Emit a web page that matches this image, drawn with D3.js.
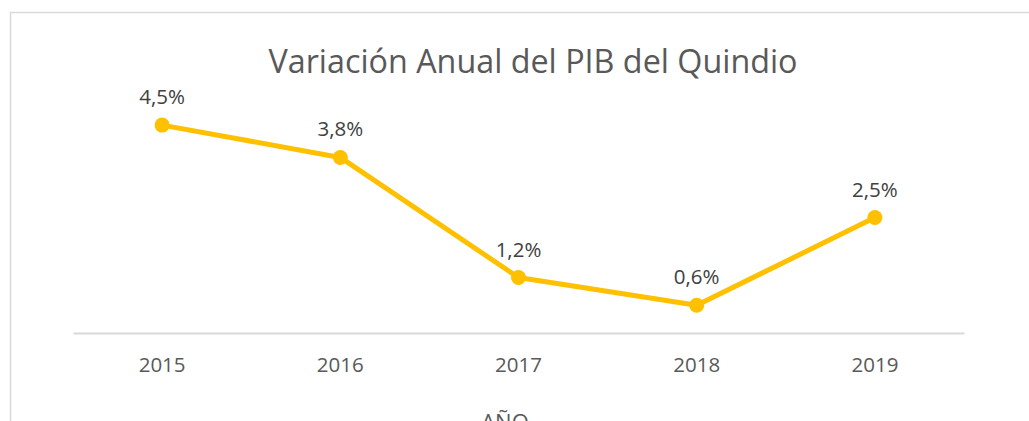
<!DOCTYPE html>
<html><head><meta charset="utf-8">
<script src="https://cdn.jsdelivr.net/npm/d3@7"></script>
<style>html,body{margin:0;padding:0;background:#fff;overflow:hidden}</style>
</head><body>
<svg id="c" width="1029" height="421"></svg>
<script>
const years = ["2015","2016","2017","2018","2019"];
const values = [4.5, 3.8, 1.2, 0.6, 2.5];
const valueLabels = ["4,5%","3,8%","1,2%","0,6%","2,5%"];
const title = "Variación Anual del PIB del Quindio";
const axisTitle = "AÑO";

const svg = d3.select("#c");
const font = "'Open Sans', 'Segoe UI', sans-serif";
const grey = "#595959";
const gold = "#FFC000";

// chart frame
svg.append("rect").attr("x",10.5).attr("y",12.5).attr("width",1040).attr("height",440)
  .attr("fill","#fff").attr("stroke","#d9d9d9").attr("stroke-width",1.5);

const x = d3.scaleBand().domain(years).range([73,964]);
const y = d3.scaleLinear().domain([0,5]).range([333,102]);

// category axis
const xAxis = d3.axisBottom(x).tickSize(0).tickPadding(24);
const gx = svg.append("g").attr("transform","translate(0,333)").call(xAxis);
gx.select(".domain").attr("stroke","#d9d9d9").attr("stroke-width",2);
gx.selectAll("text").attr("fill",grey).style("font-family",font).style("font-size","20.5px");

// title
svg.append("text").attr("x",533).attr("y",73).attr("text-anchor","middle")
  .attr("fill",grey).style("font-family",font).style("font-size","32.3px").text(title);

// axis title
svg.append("text").attr("x",505).attr("y",430).attr("text-anchor","middle")
  .attr("fill",grey).style("font-family",font).style("font-size","22px").text(axisTitle);

const cx = d => x(d) + x.bandwidth()/2;
const line = d3.line().x((d,i)=>cx(years[i])).y(d=>y(d));
svg.append("path").datum(values).attr("d",line).attr("fill","none")
  .attr("stroke",gold).attr("stroke-width",5).attr("stroke-linejoin","round");

svg.selectAll("circle.pt").data(values).enter().append("circle")
  .attr("class","pt").attr("cx",(d,i)=>cx(years[i])).attr("cy",d=>y(d)).attr("r",7.5)
  .attr("fill",gold);

svg.selectAll("text.lbl").data(values).enter().append("text")
  .attr("class","lbl").attr("x",(d,i)=>cx(years[i])).attr("y",d=>y(d)-21)
  .attr("text-anchor","middle").attr("fill","#404040")
  .style("font-family",font).style("font-size","20.5px").text((d,i)=>valueLabels[i]);
</script>
</body></html>
